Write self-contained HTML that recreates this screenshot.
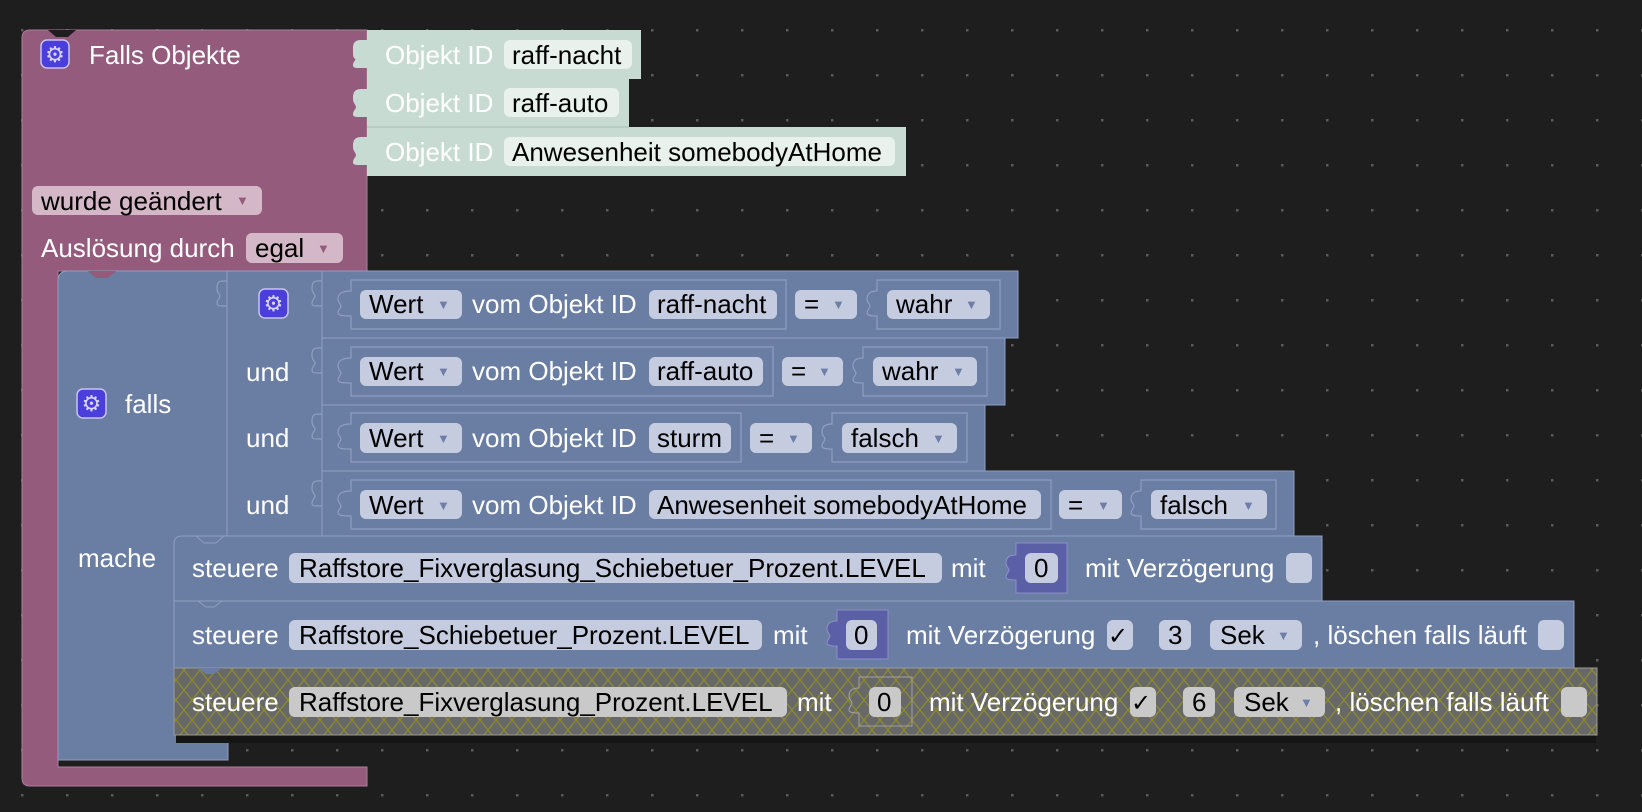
<!DOCTYPE html>
<html><head><meta charset="utf-8"><style>
html,body{margin:0;padding:0;background:#1e1e1e;width:1642px;height:812px;overflow:hidden}
svg{display:block}
text{font-family:"Liberation Sans",Arial,sans-serif;font-size:26px}
.w{fill:#fff}.k{fill:#000}
.ar{font-size:13px;fill:#6e7ea6}
.arp{font-size:13px;fill:#945b7c}
</style></head><body>
<svg width="1642" height="812" viewBox="0 0 1642 812" xmlns="http://www.w3.org/2000/svg">
<defs>
<pattern id="dots" x="0" y="0" width="45" height="45" patternUnits="userSpaceOnUse">
<rect x="21" y="29" width="2.5" height="2.5" fill="#5a5a5a"/>
</pattern>
<pattern id="hatch" width="16" height="20" patternUnits="userSpaceOnUse">
<rect width="16" height="20" fill="#686868"/>
<path d="M0,0 L16,20 M16,0 L0,20" stroke="#8c8c2c" stroke-width="1.2"/>
</pattern>
</defs>
<rect width="1642" height="812" fill="#1e1e1e"/>
<rect width="1642" height="812" fill="url(#dots)"/>

<!-- Pink block -->
<path d="M30,30 H367 V271 H58 V767 H367 V786 H30 Q22,786 22,778 V38 Q22,30 30,30 Z" fill="#945b7c" stroke="#b07d9b" stroke-width="1"/>
<path d="M48,30 L56,37 H68 L76,30 Z" fill="#1e1e1e"/>
<rect x="41" y="40" width="28" height="28" rx="6" fill="#4b3fdb" stroke="#c9c3f5" stroke-width="1.5"/>
<text x="55" y="62" text-anchor="middle" style="font-size:22px;font-family:'DejaVu Sans',sans-serif" fill="#d8d4ff">⚙</text>
<text class="w" x="89" y="64">Falls Objekte</text>

<!-- Green Objekt ID blocks -->
<rect x="367" y="30" width="274" height="49" fill="#c8dbd2"/>
<rect x="367" y="79" width="262" height="48" fill="#c8dbd2"/>
<rect x="367" y="127" width="539" height="49" fill="#c8dbd2"/>
<line x1="367" y1="127" x2="629" y2="127" stroke="#a9bdb4"/>
<path d="M367,40 h-6 q-8,0 -8,8 v6 q0,6 6,6 v-2 q0,10 0,0" fill="#c8dbd2"/>
<path d="M367,40 h-6 c-8,0 -8,6 -8,10 c0,4 3,6 3,8 c0,2 -3,4 -3,7 c0,3 2,3 8,3 h6 Z" fill="#c8dbd2"/>
<path d="M367,89 h-6 c-8,0 -8,6 -8,10 c0,4 3,6 3,8 c0,2 -3,4 -3,7 c0,3 2,3 8,3 h6 Z" fill="#c8dbd2"/>
<path d="M367,137 h-6 c-8,0 -8,6 -8,10 c0,4 3,6 3,8 c0,2 -3,4 -3,7 c0,3 2,3 8,3 h6 Z" fill="#c8dbd2"/>
<text class="w" x="385" y="64">Objekt ID</text>
<text class="w" x="385" y="112">Objekt ID</text>
<text class="w" x="385" y="161">Objekt ID</text>
<rect x="504" y="40" width="128" height="29" rx="6" fill="#e9f1ed"/>
<text class="k" x="512" y="64">raff-nacht</text>
<rect x="504" y="88" width="115" height="29" rx="6" fill="#e9f1ed"/>
<text class="k" x="512" y="112">raff-auto</text>
<rect x="504" y="137" width="391" height="29" rx="6" fill="#e9f1ed"/>
<text class="k" x="512" y="161">Anwesenheit somebodyAtHome</text>

<!-- pink dropdowns -->
<rect x="32" y="186" width="230" height="29" rx="6" fill="#d4b8c7"/>
<text class="k" x="41" y="210">wurde geändert</text>
<text class="arp" x="236" y="205">▼</text>
<text class="w" x="41" y="257">Auslösung durch</text>
<rect x="246" y="233" width="97" height="30" rx="6" fill="#d4b8c7"/>
<text class="k" x="255" y="257">egal</text>
<text class="arp" x="317" y="253">▼</text>

<!-- Blue falls block -->
<path d="M68,271 H228 V760 H58 V281 Q58,271 68,271 Z" fill="#6a7da3" stroke="#8e9ec0" stroke-width="1"/>
<path d="M88,271 L96,278 H108 L116,271 Z" fill="#945b7c"/>
<!-- und block -->
<path d="M227,271 H1018 V338 H1005 V405 H985 V471 H1294 V537 H227 Z" fill="#6a7da3" stroke="#8e9ec0" stroke-width="1"/>
<line x1="322" y1="271" x2="322" y2="537" stroke="#8e9ec0"/>
<line x1="322" y1="338" x2="1018" y2="338" stroke="#8e9ec0"/>
<line x1="322" y1="405" x2="1005" y2="405" stroke="#8e9ec0"/>
<line x1="322" y1="471" x2="1294" y2="471" stroke="#8e9ec0"/>
<g fill="none" stroke="#8e9ec0" stroke-width="1.2">
<path d="M227,281 h-4 c-6,0 -6,4 -6,8 c0,4 3,5 3,7 c0,2 -3,4 -3,7 c0,3 2,3 6,3 h4"/>
<path d="M322,281 h-4 c-6,0 -6,4 -6,8 c0,4 3,5 3,7 c0,2 -3,4 -3,7 c0,3 2,3 6,3 h4"/>
<path d="M322,348 h-4 c-6,0 -6,4 -6,8 c0,4 3,5 3,7 c0,2 -3,4 -3,7 c0,3 2,3 6,3 h4"/>
<path d="M322,414 h-4 c-6,0 -6,4 -6,8 c0,4 3,5 3,7 c0,2 -3,4 -3,7 c0,3 2,3 6,3 h4"/>
<path d="M322,481 h-4 c-6,0 -6,4 -6,8 c0,4 3,5 3,7 c0,2 -3,4 -3,7 c0,3 2,3 6,3 h4"/>
<!-- compare boxes -->
<path d="M351,280 H786 V329 H351 V316 c-6,0 -13,0 -13,-3 c0,-3 3,-5 3,-7 c0,-2 -3,-3 -3,-7 c0,-4 2,-8 13,-8 Z"/>
<path d="M351,347 H773 V396 H351 V383 c-6,0 -13,0 -13,-3 c0,-3 3,-5 3,-7 c0,-2 -3,-3 -3,-7 c0,-4 2,-8 13,-8 Z"/>
<path d="M351,413 H741 V462 H351 V449 c-6,0 -13,0 -13,-3 c0,-3 3,-5 3,-7 c0,-2 -3,-3 -3,-7 c0,-4 2,-8 13,-8 Z"/>
<path d="M351,480 H1051 V529 H351 V516 c-6,0 -13,0 -13,-3 c0,-3 3,-5 3,-7 c0,-2 -3,-3 -3,-7 c0,-4 2,-8 13,-8 Z"/>
<!-- value boxes -->
<path d="M877,280 H1000 V329 H877 V316 c-4,0 -10,0 -10,-3 c0,-3 3,-5 3,-7 c0,-2 -3,-3 -3,-7 c0,-4 2,-8 10,-8 Z"/>
<path d="M863,347 H987 V396 H863 V383 c-4,0 -10,0 -10,-3 c0,-3 3,-5 3,-7 c0,-2 -3,-3 -3,-7 c0,-4 2,-8 10,-8 Z"/>
<path d="M832,413 H967 V462 H832 V449 c-4,0 -10,0 -10,-3 c0,-3 3,-5 3,-7 c0,-2 -3,-3 -3,-7 c0,-4 2,-8 10,-8 Z"/>
<path d="M1141,480 H1276 V529 H1141 V516 c-4,0 -10,0 -10,-3 c0,-3 3,-5 3,-7 c0,-2 -3,-3 -3,-7 c0,-4 2,-8 10,-8 Z"/>
</g>

<rect x="259" y="289" width="29" height="29" rx="6" fill="#4b3fdb" stroke="#c9c3f5" stroke-width="1.5"/>
<text x="273.5" y="311" text-anchor="middle" style="font-size:22px;font-family:'DejaVu Sans',sans-serif" fill="#d8d4ff">⚙</text>
<rect x="77" y="389" width="29" height="29" rx="6" fill="#4b3fdb" stroke="#c9c3f5" stroke-width="1.5"/>
<text x="91.5" y="411" text-anchor="middle" style="font-size:22px;font-family:'DejaVu Sans',sans-serif" fill="#d8d4ff">⚙</text>
<text class="w" x="125" y="413">falls</text>
<text class="w" x="78" y="567">mache</text>
<text class="w" x="246" y="381">und</text>
<text class="w" x="246" y="447">und</text>
<text class="w" x="246" y="514">und</text>

<!-- row fields -->
<g>
<rect x="360" y="290" width="102" height="29" rx="6" fill="#c6cce0"/><text class="k" x="369" y="313">Wert</text><text class="ar" x="437" y="309">▼</text>
<rect x="360" y="357" width="102" height="29" rx="6" fill="#c6cce0"/><text class="k" x="369" y="380">Wert</text><text class="ar" x="437" y="376">▼</text>
<rect x="360" y="423" width="102" height="30" rx="6" fill="#c6cce0"/><text class="k" x="369" y="447">Wert</text><text class="ar" x="437" y="443">▼</text>
<rect x="360" y="490" width="102" height="29" rx="6" fill="#c6cce0"/><text class="k" x="369" y="514">Wert</text><text class="ar" x="437" y="510">▼</text>
<text class="w" x="472" y="313">vom Objekt ID</text>
<text class="w" x="472" y="380">vom Objekt ID</text>
<text class="w" x="472" y="447">vom Objekt ID</text>
<text class="w" x="472" y="514">vom Objekt ID</text>
<rect x="649" y="290" width="128" height="29" rx="6" fill="#c6cce0"/><text class="k" x="657" y="313">raff-nacht</text>
<rect x="649" y="357" width="114" height="29" rx="6" fill="#c6cce0"/><text class="k" x="657" y="380">raff-auto</text>
<rect x="649" y="423" width="82" height="30" rx="6" fill="#c6cce0"/><text class="k" x="657" y="447">sturm</text>
<rect x="649" y="490" width="392" height="29" rx="6" fill="#c6cce0"/><text class="k" x="657" y="514">Anwesenheit somebodyAtHome</text>
<rect x="795" y="290" width="62" height="29" rx="6" fill="#c6cce0"/><text class="k" x="804" y="313">=</text><text class="ar" x="832" y="309">▼</text>
<rect x="782" y="357" width="61" height="29" rx="6" fill="#c6cce0"/><text class="k" x="791" y="380">=</text><text class="ar" x="818" y="376">▼</text>
<rect x="750" y="423" width="62" height="30" rx="6" fill="#c6cce0"/><text class="k" x="759" y="447">=</text><text class="ar" x="787" y="443">▼</text>
<rect x="1059" y="490" width="63" height="29" rx="6" fill="#c6cce0"/><text class="k" x="1068" y="514">=</text><text class="ar" x="1097" y="510">▼</text>
<rect x="887" y="290" width="103" height="29" rx="6" fill="#c6cce0"/><text class="k" x="896" y="313">wahr</text><text class="ar" x="965" y="309">▼</text>
<rect x="873" y="357" width="104" height="29" rx="6" fill="#c6cce0"/><text class="k" x="882" y="380">wahr</text><text class="ar" x="952" y="376">▼</text>
<rect x="842" y="423" width="115" height="30" rx="6" fill="#c6cce0"/><text class="k" x="851" y="447">falsch</text><text class="ar" x="932" y="443">▼</text>
<rect x="1151" y="490" width="116" height="29" rx="6" fill="#c6cce0"/><text class="k" x="1160" y="514">falsch</text><text class="ar" x="1242" y="510">▼</text>
</g>

<!-- statements -->
<path d="M182,536 H1322 V601 H174 V544 Q174,536 182,536 Z" fill="#6a7da3" stroke="#8e9ec0"/>
<path d="M196,536 L204,543 H216 L224,536 Z" fill="#6a7da3" stroke="#8e9ec0"/>
<rect x="174" y="601" width="1400" height="67" fill="#6a7da3" stroke="#8e9ec0"/>
<path d="M198,601 L206,607 H214 L222,601 Z" fill="#6a7da3" stroke="#8e9ec0"/>
<rect x="176" y="735" width="1420" height="8" fill="#151515"/>
<rect x="174" y="668" width="1423" height="67" fill="url(#hatch)" stroke="#9a9a9a"/>
<path d="M198,668 L206,674 H214 L222,668 Z" fill="#6a7da3"/>

<text class="w" x="192" y="577">steuere</text>
<rect x="289" y="553" width="653" height="30" rx="6" fill="#c6cce0"/>
<text class="k" x="299" y="577">Raffstore_Fixverglasung_Schiebetuer_Prozent.LEVEL</text>
<text class="w" x="951" y="577">mit</text>
<path d="M1016,543 H1067 V593 H1016 V580 c-4,0 -10,0 -10,-3 c0,-3 3,-5 3,-7 c0,-2 -3,-3 -3,-7 c0,-4 2,-8 10,-8 Z" fill="#5a5fa6" stroke="#8e8ec8"/>
<rect x="1025" y="553" width="33" height="30" rx="6" fill="#c6cce0"/><text class="k" x="1034" y="577">0</text>
<text class="w" x="1085" y="577">mit Verzögerung</text>
<rect x="1286" y="553" width="26" height="30" rx="6" fill="#c6cce0"/>

<text class="w" x="192" y="644">steuere</text>
<rect x="289" y="620" width="473" height="30" rx="6" fill="#c6cce0"/>
<text class="k" x="299" y="644">Raffstore_Schiebetuer_Prozent.LEVEL</text>
<text class="w" x="773" y="644">mit</text>
<path d="M837,610 H888 V659 H837 V646 c-4,0 -10,0 -10,-3 c0,-3 3,-5 3,-7 c0,-2 -3,-3 -3,-7 c0,-4 2,-8 10,-8 Z" fill="#5a5fa6" stroke="#8e8ec8"/>
<rect x="846" y="620" width="31" height="30" rx="6" fill="#c6cce0"/><text class="k" x="854" y="644">0</text>
<text class="w" x="906" y="644">mit Verzögerung</text>
<rect x="1107" y="620" width="26" height="30" rx="6" fill="#c6cce0"/><text class="k" x="1108" y="644" style="font-family:'DejaVu Sans',sans-serif;font-size:24px">✓</text>
<rect x="1159" y="620" width="32" height="30" rx="6" fill="#c6cce0"/><text class="k" x="1168" y="644">3</text>
<rect x="1210" y="620" width="92" height="30" rx="6" fill="#c6cce0"/><text class="k" x="1220" y="644">Sek</text><text class="ar" x="1277" y="640">▼</text>
<text class="w" x="1313" y="644">, löschen falls läuft</text>
<rect x="1538" y="620" width="26" height="30" rx="6" fill="#c6cce0"/>

<text class="w" x="192" y="711">steuere</text>
<rect x="289" y="687" width="498" height="30" rx="6" fill="#c9c9c9"/>
<text class="k" x="299" y="711">Raffstore_Fixverglasung_Prozent.LEVEL</text>
<text class="w" x="797" y="711">mit</text>
<path d="M859,677 H912 V726 H859 V713 c-4,0 -10,0 -10,-3 c0,-3 3,-5 3,-7 c0,-2 -3,-3 -3,-7 c0,-4 2,-8 10,-8 Z" fill="url(#hatch)" stroke="#a0a0a0"/>
<rect x="869" y="687" width="32" height="30" rx="6" fill="#c9c9c9"/><text class="k" x="877" y="711">0</text>
<text class="w" x="929" y="711">mit Verzögerung</text>
<rect x="1130" y="687" width="26" height="30" rx="6" fill="#c9c9c9"/><text class="k" x="1131" y="711" style="font-family:'DejaVu Sans',sans-serif;font-size:24px">✓</text>
<rect x="1183" y="687" width="32" height="30" rx="6" fill="#c9c9c9"/><text class="k" x="1192" y="711">6</text>
<rect x="1234" y="687" width="91" height="30" rx="6" fill="#c9c9c9"/><text class="k" x="1244" y="711">Sek</text><text class="ar" x="1300" y="707">▼</text>
<text class="w" x="1335" y="711">, löschen falls läuft</text>
<rect x="1561" y="687" width="26" height="30" rx="6" fill="#c9c9c9"/>
</svg>
</body></html>
